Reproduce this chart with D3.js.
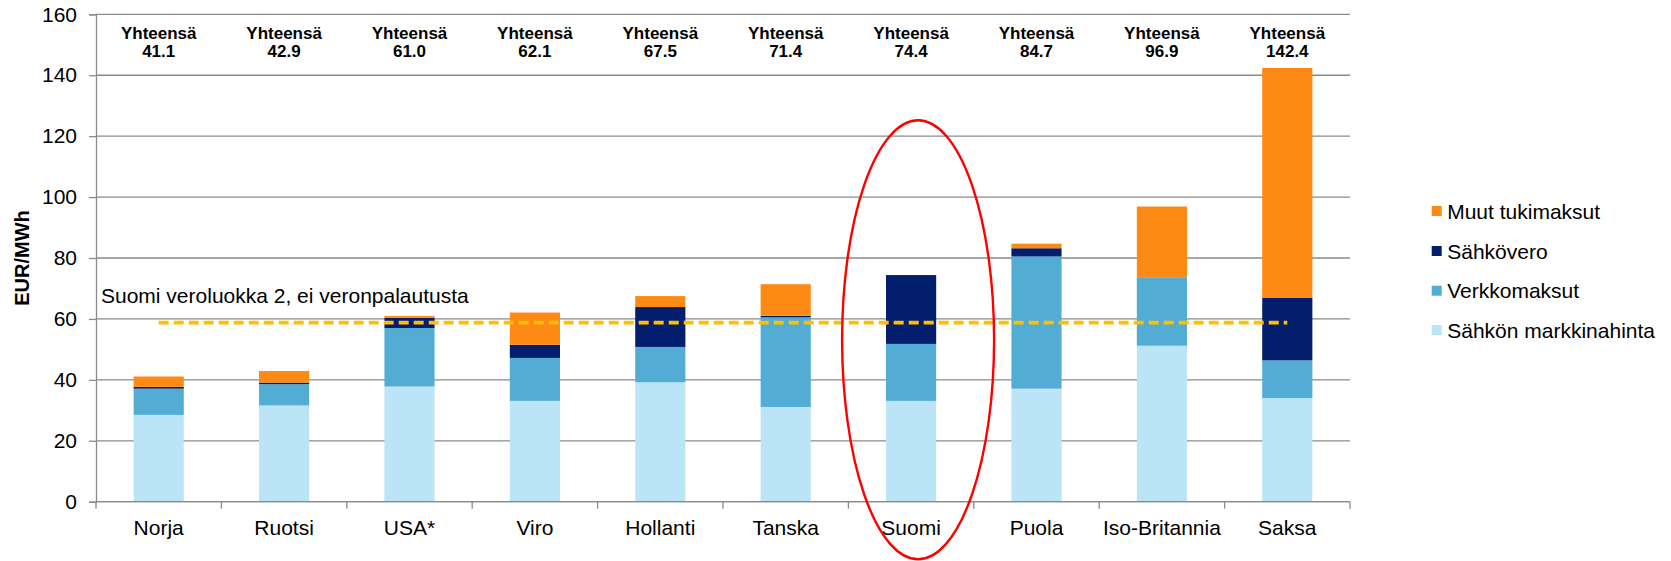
<!DOCTYPE html>
<html>
<head>
<meta charset="utf-8">
<script src="https://cdn.jsdelivr.net/npm/d3@7"></script>
<style>
    html, body { margin: 0; padding: 0; background: #fff; }
    svg { display: block; font-family: "Liberation Sans", Arial, sans-serif; }
</style>
</head>
<body>
<svg id="chart" width="1671" height="561"></svg>
<script>
const categories = ['Norja', 'Ruotsi', 'USA*', 'Viro', 'Hollanti', 'Tanska', 'Suomi', 'Puola', 'Iso-Britannia', 'Saksa'];
const marketPrice = [28.5, 31.6, 37.8, 33.1, 39.2, 31.1, 33.1, 37.1, 51.2, 34.0];
const networkFees = [8.6, 7.0, 19.2, 14.1, 11.6, 29.4, 18.7, 43.4, 22.5, 12.4];
const electricityTax = [0.6, 0.5, 3.4, 4.3, 13.1, 0.5, 22.6, 2.7, 0.0, 20.6];
const otherFees = [3.4, 3.8, 0.6, 10.6, 3.6, 10.4, 0.0, 1.5, 23.2, 75.4];
const totals = ['41.1', '42.9', '61.0', '62.1', '67.5', '71.4', '74.4', '84.7', '96.9', '142.4'];
const seriesNames = ['Sähkön markkinahinta', 'Verkkomaksut', 'Sähkövero', 'Muut tukimaksut'];
const seriesColors = ['#BCE4F7', '#52ACD4', '#021E6C', '#FD8A14'];
const yTicks = [0, 20, 40, 60, 80, 100, 120, 140, 160];
const finlandLevel = 58.8;
const finlandLabel = 'Suomi veroluokka 2, ei veronpalautusta';

const margin = { left: 96, right: 321, top: 14.3, bottom: 59.3 };
const width = 1671, height = 561;

const svg = d3.select('#chart');

const x = d3.scaleBand()
    .domain(categories)
    .range([margin.left, width - margin.right])
    .paddingInner(0.6)
    .paddingOuter(0.3);

const y = d3.scaleLinear()
    .domain([0, 160])
    .range([height - margin.bottom, margin.top]);

// gridlines
svg.append('g')
    .selectAll('line')
    .data(yTicks)
    .enter()
    .append('line')
    .attr('x1', margin.left)
    .attr('x2', width - margin.right)
    .attr('y1', d => y(d))
    .attr('y2', d => y(d))
    .attr('stroke', '#8a8a8a')
    .attr('stroke-width', 1.3);

// stacked bars
const rows = categories.map((c, i) => ({
    cat: c,
    'Sähkön markkinahinta': marketPrice[i],
    'Verkkomaksut': networkFees[i],
    'Sähkövero': electricityTax[i],
    'Muut tukimaksut': otherFees[i]
}));
const stacked = d3.stack().keys(seriesNames)(rows);

svg.append('g')
    .selectAll('g')
    .data(stacked)
    .enter()
    .append('g')
    .attr('fill', (d, i) => seriesColors[i])
    .selectAll('rect')
    .data(d => d)
    .enter()
    .append('rect')
    .attr('x', d => x(d.data.cat))
    .attr('width', x.bandwidth())
    .attr('y', d => y(d[1]))
    .attr('height', d => Math.max(0, y(d[0]) - y(d[1])));

// y axis
const yAxis = d3.axisLeft(y)
    .tickValues(yTicks)
    .tickSize(7)
    .tickPadding(12);
const yg = svg.append('g')
    .attr('transform', `translate(${margin.left},0)`)
    .call(yAxis);
yg.select('.domain').attr('stroke', '#8a8a8a').attr('stroke-width', 1.3);
yg.selectAll('.tick line').attr('stroke', '#8a8a8a').attr('stroke-width', 1.3);
yg.selectAll('.tick text')
    .attr('font-size', '21px')
    .attr('font-family', '"Liberation Sans", Arial, sans-serif')
    .attr('fill', '#000');

// x axis: baseline, boundary ticks, labels
const y0 = y(0);
svg.append('line')
    .attr('x1', margin.left).attr('x2', width - margin.right)
    .attr('y1', y0).attr('y2', y0)
    .attr('stroke', '#8a8a8a').attr('stroke-width', 1.3);

const step = x.step();
svg.append('g')
    .selectAll('line')
    .data(d3.range(categories.length + 1))
    .enter()
    .append('line')
    .attr('x1', i => margin.left + i * step)
    .attr('x2', i => margin.left + i * step)
    .attr('y1', y0)
    .attr('y2', y0 + 7)
    .attr('stroke', '#8a8a8a')
    .attr('stroke-width', 1.3);

svg.append('g')
    .selectAll('text')
    .data(categories)
    .enter()
    .append('text')
    .attr('x', d => x(d) + x.bandwidth() / 2)
    .attr('y', y0 + 33.5)
    .attr('text-anchor', 'middle')
    .attr('font-size', '21px')
    .text(d => d);

// y axis title
svg.append('text')
    .attr('transform', `translate(28.5,${y(80)}) rotate(-90)`)
    .attr('text-anchor', 'middle')
    .attr('font-size', '20px')
    .attr('font-weight', 'bold')
    .text('EUR/MWh');

// totals
const totalG = svg.append('g')
    .selectAll('g')
    .data(categories)
    .enter()
    .append('g')
    .attr('transform', d => `translate(${x(d) + x.bandwidth() / 2},0)`);
totalG.append('text')
    .attr('y', 39.3)
    .attr('text-anchor', 'middle')
    .attr('font-size', '17px')
    .attr('font-weight', 'bold')
    .text('Yhteensä');
totalG.append('text')
    .attr('y', 56.5)
    .attr('text-anchor', 'middle')
    .attr('font-size', '17px')
    .attr('font-weight', 'bold')
    .text((d, i) => totals[i]);

// Finland reference line
const first = categories[0], last = categories[categories.length - 1];
svg.append('line')
    .attr('x1', x(first) + x.bandwidth() / 2)
    .attr('x2', x(last) + x.bandwidth() / 2)
    .attr('y1', y(finlandLevel))
    .attr('y2', y(finlandLevel))
    .attr('stroke', '#FFC000')
    .attr('stroke-width', 3.6)
    .attr('stroke-dasharray', '10,5');

svg.append('text')
    .attr('x', margin.left + 5)
    .attr('y', y(finlandLevel) - 20)
    .attr('font-size', '21px')
    .text(finlandLabel);

// highlight ellipse round Suomi
const suomiX = x('Suomi') + x.bandwidth() / 2;
svg.append('ellipse')
    .attr('cx', suomiX + 7)
    .attr('cy', (y(125.2) + y(-18.9)) / 2)
    .attr('rx', 76)
    .attr('ry', (y(-18.9) - y(125.2)) / 2)
    .attr('fill', 'none')
    .attr('stroke', '#FF0000')
    .attr('stroke-width', 2.4);

// legend
const legendItems = seriesNames.map((n, i) => ({ name: n, color: seriesColors[i] })).reverse();
const legendY = [211, 251, 290.7, 330];
const lg = svg.append('g')
    .selectAll('g')
    .data(legendItems)
    .enter()
    .append('g')
    .attr('transform', (d, i) => `translate(1431.7,${legendY[i]})`);
lg.append('rect')
    .attr('x', 0).attr('y', -5)
    .attr('width', 10).attr('height', 10)
    .attr('fill', d => d.color);
lg.append('text')
    .attr('x', 15.5)
    .attr('y', 7.5)
    .attr('font-size', '21px')
    .text(d => d.name);
</script>
</body>
</html>
